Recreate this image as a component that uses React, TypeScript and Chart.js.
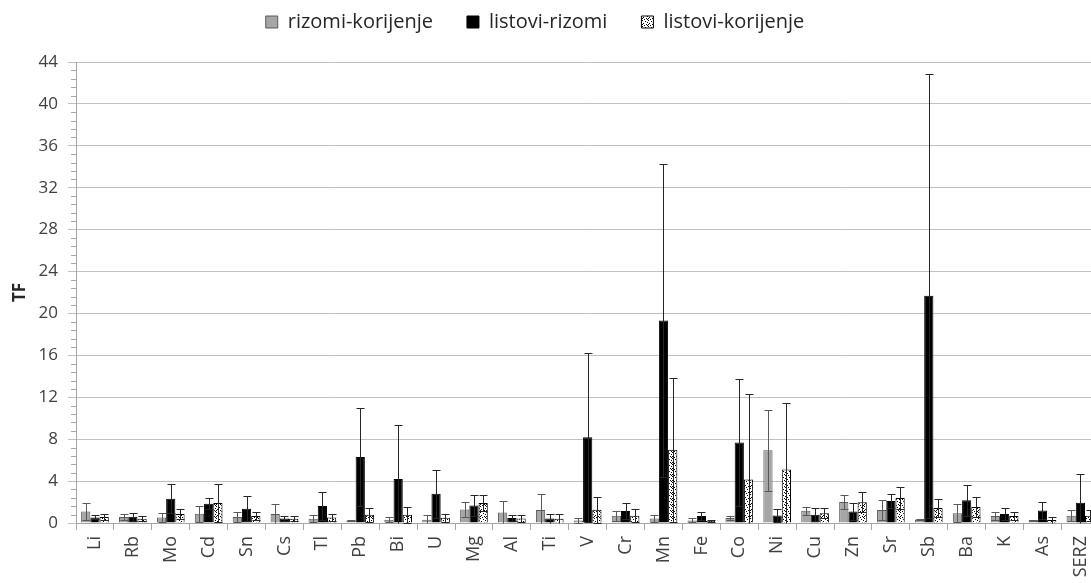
import React, { useEffect, useRef } from 'react';
import { Chart, registerables } from 'chart.js';
Chart.register(...registerables);

const categories = ['Li', 'Rb', 'Mo', 'Cd', 'Sn', 'Cs', 'Tl', 'Pb', 'Bi', 'U', 'Mg', 'Al', 'Ti', 'V', 'Cr', 'Mn', 'Fe', 'Co', 'Ni', 'Cu', 'Zn', 'Sr', 'Sb', 'Ba', 'K', 'As', 'SERZ'];

const rizomiKorijenje = [1.1, 0.58, 0.53, 0.88, 0.58, 0.85, 0.41, 0.25, 0.31, 0.31, 1.3, 1.01, 1.24, 0.25, 0.7, 0.44, 0.25, 0.47, 6.95, 1.17, 2.0, 1.24, 0.34, 0.92, 0.66, 0.28, 0.7];
const rizomiKorijenjeErr = [0.8, 0.25, 0.46, 0.77, 0.47, 0.93, 0.35, 0.05, 0.22, 0.45, 0.7, 1.09, 1.55, 0.22, 0.47, 0.32, 0.19, 0.19, 3.87, 0.38, 0.7, 0.95, 0.08, 0.86, 0.39, 0.05, 0.54];

const listoviRizomi = [0.53, 0.6, 2.31, 1.84, 1.36, 0.44, 1.62, 6.29, 4.19, 2.79, 1.68, 0.47, 0.44, 8.19, 1.14, 19.33, 0.66, 7.68, 0.72, 0.79, 1.1, 2.1, 21.68, 2.16, 0.85, 1.2, 1.93];
const listoviRizomiErr = [0.19, 0.37, 1.4, 0.51, 1.18, 0.26, 1.33, 4.69, 5.14, 2.31, 1.02, 0.29, 0.46, 8.06, 0.73, 14.97, 0.39, 6.03, 0.58, 0.6, 0.8, 0.66, 21.22, 1.49, 0.61, 0.8, 2.72];

const listoviKorijenje = [0.58, 0.41, 0.85, 1.9, 0.66, 0.41, 0.53, 0.79, 0.79, 0.5, 1.9, 0.44, 0.41, 1.27, 0.7, 6.98, 0.19, 4.16, 5.1, 0.92, 1.97, 2.38, 1.43, 1.52, 0.66, 0.28, 0.7];
const listoviKorijenjeErr = [0.32, 0.26, 0.48, 1.81, 0.39, 0.26, 0.37, 0.67, 0.76, 0.4, 0.8, 0.32, 0.42, 1.23, 0.6, 6.89, 0.12, 8.16, 6.33, 0.47, 0.95, 1.05, 0.85, 0.92, 0.39, 0.28, 0.5];

const seriesNames = ['rizomi-korijenje', 'listovi-rizomi', 'listovi-korijenje'];
const yMin = 0;
const yMax = 44;
const yStep = 4;
const yMinorStep = 0.8;
const yTitle = 'TF';

const FONT = "'Open Sans', 'Noto Sans', sans-serif";

const SHIFT_UP = 22;
const LEGEND_PAD = 34;
const LEGEND_EXTRA = 20;
const CH = 640;
const CW = 1108;

function makePattern(): CanvasPattern | string {
  const c = document.createElement('canvas');
  c.width = 6;
  c.height = 6;
  const g = c.getContext('2d');
  if (!g) return '#ddd';
  g.fillStyle = '#ffffff';
  g.fillRect(0, 0, 6, 6);
  g.fillStyle = '#000000';
  const pts = [[0, 0], [3, 1], [5, 2], [1, 3], [4, 4], [2, 5], [0, 4], [5, 5]];
  pts.forEach(([x, y]) => g.fillRect(x, y, 1, 1));
  const p = g.createPattern(c, 'repeat');
  return p || '#ddd';
}

const errorBarPlugin = {
  id: 'errorBars',
  afterDatasetsDraw(chart: any) {
    const ctx = chart.ctx;
    const y = chart.scales.y;
    chart.data.datasets.forEach((ds: any, i: number) => {
      const meta = chart.getDatasetMeta(i);
      if (meta.hidden) return;
      ctx.save();
      ctx.strokeStyle = ds.errorColor || '#333';
      ctx.lineWidth = 1;
      meta.data.forEach((bar: any, j: number) => {
        const v = ds.data[j];
        const e = ds.errors[j];
        const x = Math.round(bar.x) + 0.5;
        const top = Math.round(y.getPixelForValue(v + e)) + 0.5;
        const bot = Math.round(y.getPixelForValue(Math.max(v - e, 0))) + 0.5;
        const hw = 4;
        ctx.beginPath();
        ctx.moveTo(x, top);
        ctx.lineTo(x, bot);
        ctx.moveTo(x - hw, top);
        ctx.lineTo(x + hw, top);
        if (v - e > 0) {
          ctx.moveTo(x - hw, bot);
          ctx.lineTo(x + hw, bot);
        }
        ctx.stroke();
      });
      ctx.restore();
    });
  },
};

const minorTickPlugin = {
  id: 'minorTicks',
  afterDraw(chart: any) {
    const ctx = chart.ctx;
    const y = chart.scales.y;
    const left = chart.chartArea.left;
    ctx.save();
    ctx.strokeStyle = '#A6A6A6';
    ctx.lineWidth = 1;
    ctx.beginPath();
    const n = Math.round((yMax - yMin) / yMinorStep);
    for (let k = 0; k <= n; k++) {
      const v = yMin + k * yMinorStep;
      if (Math.abs(v / yStep - Math.round(v / yStep)) < 1e-6) continue;
      const py = Math.round(y.getPixelForValue(v)) + 0.5;
      ctx.moveTo(left - 5, py);
      ctx.lineTo(left, py);
    }
    ctx.stroke();
    ctx.restore();
  },
};

const legendTweakPlugin = {
  id: 'legendTweak',
  beforeInit(chart: any) {
    const legend = chart.legend;
    if (!legend) return;
    const origFit = legend.fit;
    legend.fit = function () {
      origFit.call(this);
      this.height += LEGEND_EXTRA;
    };
    const origDraw = legend.draw;
    legend.draw = function () {
      const r = this.right;
      this.right = r - 38;
      origDraw.call(this);
      this.right = r;
    };
  },
};

export default function App() {
  const ref = useRef<HTMLCanvasElement>(null);
  useEffect(() => {
    const canvas = ref.current;
    if (!canvas) return;
    const pattern = makePattern();
    const chart = new Chart(canvas, {
      type: 'bar',
      data: {
        labels: categories,
        datasets: [
          {
            label: seriesNames[0],
            data: rizomiKorijenje,
            errors: rizomiKorijenjeErr,
            errorColor: '#595959',
            backgroundColor: '#A6A6A6',
            borderColor: '#595959',
            borderWidth: 1,
          } as any,
          {
            label: seriesNames[1],
            data: listoviRizomi,
            errors: listoviRizomiErr,
            errorColor: '#262626',
            backgroundColor: '#000000',
            borderColor: '#000000',
            borderWidth: 1,
          } as any,
          {
            label: seriesNames[2],
            data: listoviKorijenje,
            errors: listoviKorijenjeErr,
            errorColor: '#262626',
            backgroundColor: pattern,
            borderColor: '#000000',
            borderWidth: 1,
          } as any,
        ],
      },
      options: {
        responsive: false,
        animation: false,
        devicePixelRatio: 1,
        layout: { padding: { top: 0, left: 0, right: 0, bottom: 0 } },
        datasets: {
          bar: { categoryPercentage: 0.73, barPercentage: 1.0 },
        },
        plugins: {
          legend: {
            position: 'top',
            labels: {
              boxWidth: 12,
              boxHeight: 12,
              padding: LEGEND_PAD,
              color: '#262626',
              font: { family: FONT, size: 20 },
            },
          },
          tooltip: { enabled: false },
        },
        scales: {
          x: {
            grid: {
              offset: true,
              drawOnChartArea: false,
              drawTicks: true,
              tickLength: 7,
              color: '#A6A6A6',
            },
            border: { display: true, color: '#A6A6A6' },
            ticks: {
              autoSkip: false,
              minRotation: 90,
              maxRotation: 90,
              padding: 6,
              color: '#404040',
              font: { family: FONT, size: 18 },
            },
            afterFit(scale: any) {
              scale.height = CH - (523 + SHIFT_UP);
            },
          },
          y: {
            min: yMin,
            max: yMax,
            ticks: {
              stepSize: yStep,
              padding: 10,
              color: '#404040',
              font: { family: FONT, size: 17 },
            },
            grid: { color: '#C0C0C0', tickLength: 8 },
            border: { display: true, color: '#A6A6A6' },
            title: {
              display: true,
              text: yTitle,
              color: '#262626',
              font: { family: FONT, size: 17, weight: 'bold' },
              padding: { top: 10, bottom: 0 },
            },
            afterFit(scale: any) {
              scale.width = 76;
            },
          },
        },
      } as any,
      plugins: [errorBarPlugin, minorTickPlugin, legendTweakPlugin],
    });
    return () => chart.destroy();
  }, []);

  return (
    <div style={{ width: 1091, height: 583, overflow: 'hidden', position: 'relative', background: '#fff' }}>
      <style>{'html,body{margin:0;padding:0;overflow:hidden;background:#fff;}'}</style>
      <canvas ref={ref} width={CW} height={CH} style={{ display: 'block', marginTop: -SHIFT_UP }} />
    </div>
  );
}
